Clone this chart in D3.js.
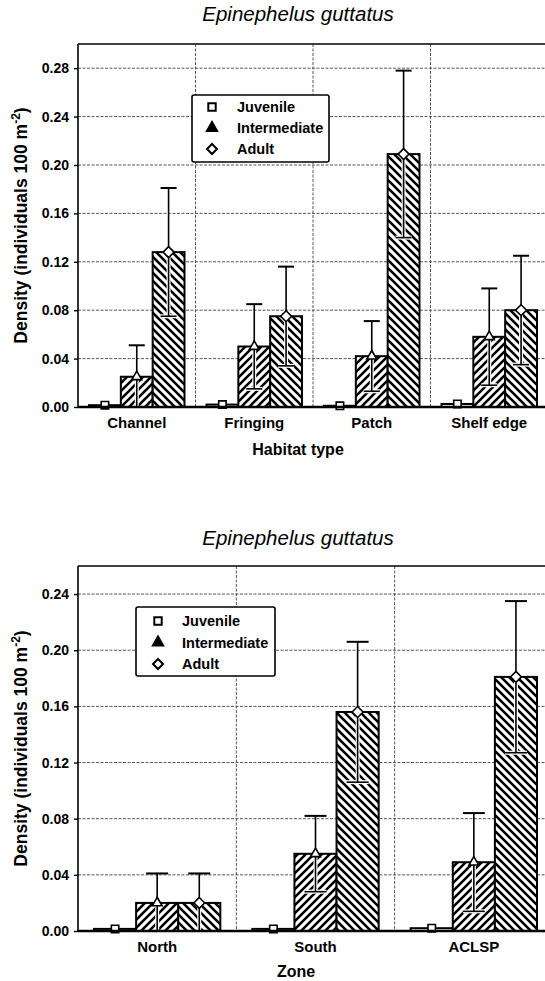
<!DOCTYPE html>
<html>
<head>
<meta charset="utf-8">
<script src="https://cdn.jsdelivr.net/npm/d3@7"></script>
<style>
  html, body { margin: 0; padding: 0; background: #fff; }
  svg { display: block; }
  text { font-family: "Liberation Sans", Arial, sans-serif; fill: #000; }
</style>
</head>
<body>
<svg id="chart" width="545" height="981"></svg>
<script>
// ---------- DATA ----------
const seriesNames = ["Juvenile", "Intermediate", "Adult"];

const habitatCategories = ["Channel", "Fringing", "Patch", "Shelf edge"];
const habitatJuvenile = [0.0015, 0.002, 0.001, 0.0025];
const habitatJuvenileErr = [0, 0, 0, 0];
const habitatIntermediate = [0.025, 0.050, 0.042, 0.058];
const habitatIntermediateErr = [0.026, 0.035, 0.029, 0.040];
const habitatAdult = [0.128, 0.075, 0.209, 0.080];
const habitatAdultErr = [0.053, 0.041, 0.069, 0.045];
const habitatTicks = [0.00, 0.04, 0.08, 0.12, 0.16, 0.20, 0.24, 0.28];

const zoneCategories = ["North", "South", "ACLSP"];
const zoneJuvenile = [0.0015, 0.0015, 0.002];
const zoneJuvenileErr = [0, 0, 0];
const zoneIntermediate = [0.020, 0.055, 0.049];
const zoneIntermediateErr = [0.021, 0.027, 0.035];
const zoneAdult = [0.020, 0.156, 0.181];
const zoneAdultErr = [0.021, 0.050, 0.054];
const zoneTicks = [0.00, 0.04, 0.08, 0.12, 0.16, 0.20, 0.24];

const chartTitle = "Epinephelus guttatus";
const yLabel = "Density (individuals 100 m";

// ---------- DRAW ----------
const svg = d3.select("#chart");
const defs = svg.append("defs");

function addHatch(id, dir) {
  const p = defs.append("pattern").attr("id", id)
    .attr("patternUnits", "userSpaceOnUse").attr("width", 8).attr("height", 8);
  p.append("rect").attr("width", 8).attr("height", 8).attr("fill", "#fff");
  const d = dir === "up"
    ? "M-2,2 L2,-2 M0,8 L8,0 M6,10 L10,6"
    : "M-2,6 L2,10 M0,0 L8,8 M6,-2 L10,2";
  p.append("path").attr("d", d).attr("stroke", "#000").attr("stroke-width", 2.6);
}
addHatch("hatchUp", "up");
addHatch("hatchDown", "down");

const fills = ["#fff", "url(#hatchUp)", "url(#hatchDown)"];

// rotated-square diamond symbol
const symbolRhomb = {
  draw(ctx, size) {
    const r = Math.sqrt(size / 2);
    ctx.moveTo(0, -r); ctx.lineTo(r, 0); ctx.lineTo(0, r); ctx.lineTo(-r, 0); ctx.closePath();
  }
};
const symTypes = [d3.symbolSquare, d3.symbolTriangle, symbolRhomb];

function drawChart(cfg) {
  const g = svg.append("g");
  const x = d3.scaleBand().domain(cfg.categories).range([cfg.left, cfg.right]).padding(0);
  const y = d3.scaleLinear().domain([0, cfg.ymax]).range([cfg.bottom, cfg.top]);
  const inner = d3.scaleBand().domain(seriesNames)
    .range([cfg.groupPad, x.bandwidth() - cfg.groupPad]).padding(0);
  const bw = inner.bandwidth();

  const clipId = "clip" + cfg.id;
  defs.append("clipPath").attr("id", clipId).append("rect")
    .attr("x", cfg.left).attr("y", cfg.top)
    .attr("width", cfg.right - cfg.left).attr("height", cfg.bottom - cfg.top);

  // grid lines
  const grid = g.append("g").attr("stroke", "#444").attr("stroke-width", 0.9)
    .attr("stroke-dasharray", "3,1.5");
  grid.selectAll("line.h").data(cfg.ticks.filter(t => t > 0)).join("line")
    .attr("x1", cfg.left).attr("x2", cfg.right)
    .attr("y1", d => y(d)).attr("y2", d => y(d));
  grid.selectAll("line.v").data(cfg.categories.slice(1)).join("line")
    .attr("x1", d => x(d)).attr("x2", d => x(d))
    .attr("y1", cfg.top).attr("y2", cfg.bottom);

  const series = [
    { name: "Juvenile", vals: cfg.juv, errs: cfg.juvErr, fill: fills[0] },
    { name: "Intermediate", vals: cfg.inter, errs: cfg.interErr, fill: fills[1] },
    { name: "Adult", vals: cfg.adult, errs: cfg.adultErr, fill: fills[2] }
  ];

  const plot = g.append("g").attr("clip-path", `url(#${clipId})`);

  series.forEach((s) => {
    const data = cfg.categories.map((c, i) => ({ c, v: s.vals[i], e: s.errs[i] }));
    plot.append("g").selectAll("rect").data(data).join("rect")
      .attr("x", d => x(d.c) + inner(s.name))
      .attr("y", d => y(d.v))
      .attr("width", bw)
      .attr("height", d => y(0) - y(d.v))
      .attr("fill", s.fill)
      .attr("stroke", "#000").attr("stroke-width", 2);
  });

  // error bars
  series.forEach((s) => {
    const data = cfg.categories.map((c, i) => ({ c, v: s.vals[i], e: s.errs[i] }))
      .filter(d => d.e > 0);
    const eg = plot.append("g");
    const cx = d => x(d.c) + inner(s.name) + bw / 2;
    const low = data.filter(d => d.v - d.e > 0.004);
    eg.selectAll("line.halo").data(data).join("line")
      .attr("x1", cx).attr("x2", cx)
      .attr("y1", d => y(Math.max(0, d.v - d.e))).attr("y2", d => y(d.v))
      .attr("stroke", "#fff").attr("stroke-width", 4);
    eg.selectAll("line.lowcapHalo").data(low).join("line")
      .attr("x1", d => cx(d) - cfg.cap / 2).attr("x2", d => cx(d) + cfg.cap / 2)
      .attr("y1", d => y(d.v - d.e)).attr("y2", d => y(d.v - d.e))
      .attr("stroke", "#fff").attr("stroke-width", 4);
    eg.selectAll("line.stem").data(data).join("line")
      .attr("x1", cx).attr("x2", cx)
      .attr("y1", d => y(Math.max(0, d.v - d.e))).attr("y2", d => y(d.v + d.e))
      .attr("stroke", "#000").attr("stroke-width", 1.6);
    eg.selectAll("line.cap").data(data).join("line")
      .attr("x1", d => cx(d) - cfg.cap / 2).attr("x2", d => cx(d) + cfg.cap / 2)
      .attr("y1", d => y(d.v + d.e)).attr("y2", d => y(d.v + d.e))
      .attr("stroke", "#000").attr("stroke-width", 2);
    eg.selectAll("line.lowcap").data(low).join("line")
      .attr("x1", d => cx(d) - cfg.cap / 2).attr("x2", d => cx(d) + cfg.cap / 2)
      .attr("y1", d => y(d.v - d.e)).attr("y2", d => y(d.v - d.e))
      .attr("stroke", "#000").attr("stroke-width", 1.6);
  });

  // markers
  const symSizes = [55, 42, 60];
  series.forEach((s, si) => {
    const data = cfg.categories.map((c, i) => ({ c, v: s.vals[i] }));
    g.append("g").selectAll("path").data(data).join("path")
      .attr("d", d3.symbol().type(symTypes[si]).size(symSizes[si]))
      .attr("transform", d => `translate(${x(d.c) + inner(s.name) + bw / 2},${y(d.v)})`)
      .attr("fill", "#fff").attr("stroke", "#000").attr("stroke-width", 1.6);
  });

  // frame
  g.append("line").attr("x1", cfg.left).attr("x2", cfg.right + 10)
    .attr("y1", cfg.top).attr("y2", cfg.top).attr("stroke", "#000").attr("stroke-width", 1.6);
  g.append("line").attr("x1", cfg.left).attr("x2", cfg.right + 10)
    .attr("y1", cfg.bottom).attr("y2", cfg.bottom).attr("stroke", "#000").attr("stroke-width", 2.4);

  const yAxis = d3.axisLeft(y).tickValues(cfg.ticks).tickFormat(d3.format(".2f"))
    .tickSize(4).tickPadding(5);
  const ya = g.append("g").attr("transform", `translate(${cfg.left},0)`).call(yAxis);
  ya.select(".domain").attr("d", `M0,${cfg.top}V${cfg.bottom}`)
    .attr("stroke", "#000").attr("stroke-width", 1.6);
  ya.selectAll(".tick line").attr("stroke", "#000").attr("stroke-width", 1.4);
  ya.selectAll(".tick text").style("font-size", "14px").style("font-weight", "bold")
    .style("font-family", "Liberation Sans, Arial, sans-serif");

  // x category labels
  const xAxis = d3.axisBottom(x).tickSize(0).tickPadding(10);
  const xa = g.append("g").attr("transform", `translate(0,${cfg.bottom})`).call(xAxis);
  xa.select(".domain").remove();
  xa.selectAll(".tick text").style("font-size", "15px").style("font-weight", "bold")
    .style("font-family", "Liberation Sans, Arial, sans-serif");

  // x axis title
  g.append("text").attr("x", cfg.xTitleX).attr("y", cfg.xTitleY)
    .attr("text-anchor", "middle").style("font-size", "16px").style("font-weight", "bold")
    .text(cfg.xTitle);

  // chart title
  g.append("text").attr("x", cfg.titleX).attr("y", cfg.titleY)
    .attr("text-anchor", "middle").style("font-size", "20.5px").style("font-style", "italic")
    .text(chartTitle);

  // y axis label
  const yl = g.append("text")
    .attr("transform", `translate(${cfg.yLabelX},${(cfg.top + cfg.bottom) / 2}) rotate(-90)`)
    .attr("text-anchor", "middle").style("font-size", "17.5px").style("font-weight", "bold");
  yl.append("tspan").text(yLabel);
  yl.append("tspan").attr("dy", -7).style("font-size", "12px").text("-2");
  yl.append("tspan").attr("dy", 7).text(")");

  // legend
  const L = cfg.legend;
  const lg = g.append("g");
  lg.append("rect").attr("x", L.x).attr("y", L.y).attr("width", L.w).attr("height", L.h)
    .attr("rx", 2).attr("fill", "#fff").attr("stroke", "#000").attr("stroke-width", 1.6);
  const legendFill = ["#fff", "#000", "#fff"];
  const legendSize = [55, 45, 50];
  seriesNames.forEach((n, i) => {
    const yy = L.y + L.first + i * L.step;
    lg.append("path").attr("d", d3.symbol().type(symTypes[i]).size(legendSize[i]))
      .attr("transform", `translate(${L.x + L.symX},${yy})`)
      .attr("fill", legendFill[i]).attr("stroke", "#000").attr("stroke-width", 2);
    lg.append("text").attr("x", L.x + L.textX).attr("y", yy + 5)
      .style("font-size", "14.5px").style("font-weight", "bold").text(n);
  });
}

drawChart({
  id: "top",
  categories: habitatCategories,
  juv: habitatJuvenile, juvErr: habitatJuvenileErr,
  inter: habitatIntermediate, interErr: habitatIntermediateErr,
  adult: habitatAdult, adultErr: habitatAdultErr,
  ticks: habitatTicks, ymax: 0.30,
  left: 78, right: 548, top: 44, bottom: 407,
  groupPad: 11, cap: 16,
  xTitle: "Habitat type", xTitleX: 298, xTitleY: 455,
  titleX: 298, titleY: 21, yLabelX: 27,
  legend: { x: 192, y: 95, w: 137, h: 67, first: 12, step: 21, symX: 20, textX: 45 }
});

drawChart({
  id: "bottom",
  categories: zoneCategories,
  juv: zoneJuvenile, juvErr: zoneJuvenileErr,
  inter: zoneIntermediate, interErr: zoneIntermediateErr,
  adult: zoneAdult, adultErr: zoneAdultErr,
  ticks: zoneTicks, ymax: 0.26,
  left: 78, right: 553, top: 566, bottom: 931,
  groupPad: 16, cap: 22,
  xTitle: "Zone", xTitleX: 296, xTitleY: 977,
  titleX: 298, titleY: 545, yLabelX: 27,
  legend: { x: 136, y: 607, w: 139, h: 69, first: 14, step: 21.5, symX: 22, textX: 46 }
});
</script>
</body>
</html>
